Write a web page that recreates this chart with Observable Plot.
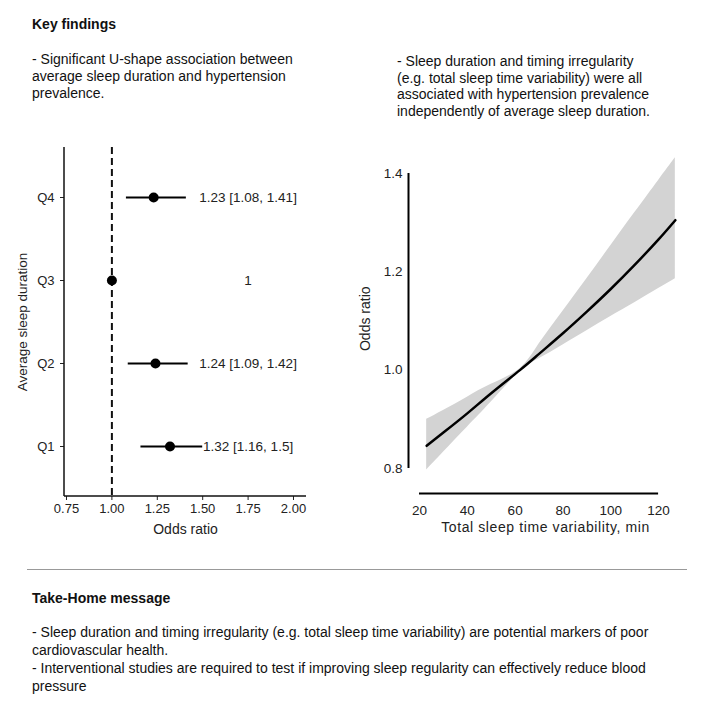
<!DOCTYPE html>
<html><head><meta charset="utf-8">
<script src="https://cdn.jsdelivr.net/npm/d3@7"></script>
<script src="https://cdn.jsdelivr.net/npm/@observablehq/plot@0.6"></script>
<style>
body{margin:0;background:#fff;font-family:"Liberation Sans",Arial,sans-serif;color:#111;}
#page{position:relative;width:701px;height:702px;overflow:hidden;background:#fff;}
.t{position:absolute;font-size:14px;line-height:17px;white-space:nowrap;}
.b{font-weight:bold;}
.plot{position:absolute;}
#rule{position:absolute;left:27px;top:569px;width:660px;height:0;border-top:1.5px solid #999;}
</style></head><body>
<div id="page">
  <div class="t b" style="left:32px;top:16px">Key findings</div>
  <div class="t" style="left:32px;top:51px">- Significant U-shape association between<br>average sleep duration and hypertension<br>prevalence.</div>
  <div class="t" style="left:397px;top:53px;line-height:16.5px">- Sleep duration and timing irregularity<br>(e.g. total sleep time variability) were all<br>associated with hypertension prevalence<br>independently of average sleep duration.</div>
  <div id="left" class="plot" style="left:0px;top:130px"></div>
  <div id="right" class="plot" style="left:340px;top:130px"></div>
  <div id="rule"></div>
  <div class="t b" style="left:32px;top:590px">Take-Home message</div>
  <div class="t" style="left:32px;top:623px;line-height:18px">- Sleep duration and timing irregularity (e.g. total sleep time variability) are potential markers of poor<br>cardiovascular health.<br>- Interventional studies are required to test if improving sleep regularity can effectively reduce blood<br>pressure</div>
</div>
<script>
// ---- Left panel data (forest plot) ----
const quartiles = ["Q1", "Q2", "Q3", "Q4"];
const orValues = [1.32, 1.24, 1, 1.23];
const ciLow = [1.16, 1.09, null, 1.08];
const ciHigh = [1.5, 1.42, null, 1.41];
const orLabels = ["1.32 [1.16, 1.5]", "1.24 [1.09, 1.42]", "1", "1.23 [1.08, 1.41]"];
const oddsTicks = [0.75, 1.00, 1.25, 1.50, 1.75, 2.00];
const labelColumnX = 1.75;

// ---- Right panel data (spline curve) ----
const tstv = [23, 30, 40, 50, 62, 70, 80, 90, 100, 110, 120, 127];
const orFit = [0.846, 0.873, 0.912, 0.953, 1.0, 1.033, 1.075, 1.119, 1.165, 1.214, 1.266, 1.305];
const orLow = [0.797, 0.833, 0.884, 0.935, 0.997, 1.023, 1.051, 1.080, 1.109, 1.137, 1.166, 1.186];
const orHigh = [0.900, 0.918, 0.945, 0.971, 1.003, 1.053, 1.120, 1.186, 1.253, 1.320, 1.386, 1.432];
const tstvTicks = [20, 40, 60, 80, 100, 120];
const orTicks = [0.8, 1.0, 1.2, 1.4];

const font = "Liberation Sans, Arial, sans-serif";

function lAxisLines(index, scales, values, dims) {
  const g = d3.create("svg:g").attr("stroke", "#111").attr("stroke-width", 1.5);
  const x0 = dims.marginLeft, x1 = dims.width - dims.marginRight;
  const y0 = dims.marginTop, y1 = dims.height - dims.marginBottom;
  g.append("line").attr("x1", x0).attr("x2", x0).attr("y1", y0).attr("y2", y1);
  g.append("line").attr("x1", x0).attr("x2", x1).attr("y1", y1).attr("y2", y1);
  return g.node();
}

function styleLabel(svg, which, size, spacing) {
  d3.select(svg).selectAll(`[aria-label="${which}-axis label"], [aria-label="${which}-axis label"] text`)
    .style("font-size", size + "px").style("letter-spacing", spacing + "px");
}

const rows = quartiles.map((q, i) => ({q, or: orValues[i], lo: ciLow[i], hi: ciHigh[i], label: orLabels[i]}));

const left = Plot.plot({
  width: 330, height: 420,
  marginLeft: 64, marginRight: 24, marginTop: 17, marginBottom: 54,
  style: {fontFamily: font, fontSize: "13px", color: "#222", background: "transparent"},
  x: {domain: [0.739, 2.0716], ticks: oddsTicks, tickFormat: d3.format(".2f"), tickSize: 4, tickPadding: 3,
      label: "Odds ratio", labelAnchor: "center", labelOffset: 37, labelArrow: false},
  y: {type: "point", domain: [...quartiles].reverse(), padding: 0.6, tickSize: 4, tickPadding: 6,
      label: "Average sleep duration", labelAnchor: "center", labelOffset: 47, labelArrow: false},
  marks: [
    Plot.ruleX([1], {stroke: "#111", strokeWidth: 2, strokeDasharray: "7,4"}),
    Plot.ruleY(rows.filter(d => d.lo != null), {y: "q", x1: "lo", x2: "hi", stroke: "#000", strokeWidth: 2}),
    Plot.dot(rows, {x: "or", y: "q", r: 5, fill: "#000", stroke: "none"}),
    Plot.text(rows, {x: () => labelColumnX, y: "q", text: "label", fill: "#222", fontSize: 13.5, textAnchor: "middle"}),
    lAxisLines
  ]
});
styleLabel(left, "x", 14, 0);
styleLabel(left, "y", 13.5, 0);
document.getElementById("left").appendChild(left);

const fitRows = tstv.map((x, i) => ({x, or: orFit[i], lo: orLow[i], hi: orHigh[i]}));
const right = Plot.plot({
  width: 361, height: 420,
  marginLeft: 68, marginRight: 19, marginTop: 13.5, marginBottom: 57,
  style: {fontFamily: font, fontSize: "13.5px", color: "#222", background: "transparent"},
  x: {domain: [15.4, 130], ticks: tstvTicks, tickSize: 0, tickPadding: 12,
      label: "Total sleep time variability, min", labelAnchor: "center", labelOffset: 38, labelArrow: false},
  y: {domain: [0.749, 1.46], ticks: orTicks, tickFormat: d3.format(".1f"), tickSize: 0, tickPadding: 6,
      label: "Odds ratio", labelAnchor: "center", labelOffset: 48, labelArrow: false},
  marks: [
    Plot.areaY(fitRows, {x: "x", y1: "lo", y2: "hi", fill: "#d3d3d3", curve: "natural"}),
    Plot.line(fitRows, {x: "x", y: "or", stroke: "#000", strokeWidth: 2.5, curve: "natural"}),
    Plot.ruleX([15.4], {y1: orTicks[0], y2: orTicks[orTicks.length - 1], stroke: "#000", strokeWidth: 2}),
    Plot.ruleY([0.749], {x1: tstvTicks[0], x2: tstvTicks[tstvTicks.length - 1], stroke: "#000", strokeWidth: 2})
  ]
});
styleLabel(right, "x", 14, 0.6);
styleLabel(right, "y", 14, 0);
document.getElementById("right").appendChild(right);
</script>
</body></html>
